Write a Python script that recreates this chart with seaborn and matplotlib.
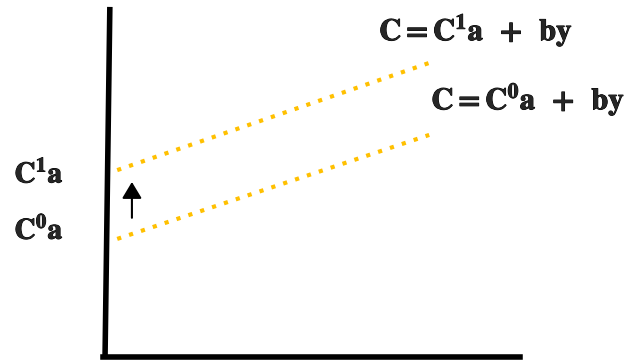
import numpy as np
import pandas as pd
import seaborn as sns
import matplotlib.pyplot as plt
import matplotlib.patheffects as pe

# income values at the two ends of each consumption line
income = [0.35, 10.1]
# consumption (C = C0a + by and C = C1a + by)
cons_new = [5.84, 9.19]
cons_old = [3.69, 6.94]
gold = "#FFC000"

# hand drawn axes
yaxis_x = [0.12, -0.03]
yaxis_y = [10.94, 0.0]
xaxis_x = [-0.09, 12.94]
xaxis_y = [0.0, 0.0]

# shift arrow
arrow_x = 0.81
arrow_from = 4.35
arrow_to = 5.47

labels = [r"$\mathbf{C^{1}a}$", r"$\mathbf{C^{0}a}$"]
label_x = [-2.09, -2.09]
label_y = [5.72, 3.96]
eqs = [r"$\mathbf{C=C^{1}a\;\;+\;\;by}$", r"$\mathbf{C=C^{0}a\;\;+\;\;by}$"]
eq_x = [11.56, 13.19]
eq_y = [10.22, 8.06]

sns.set_style("white")
plt.rcParams["mathtext.fontset"] = "stix"

fig = plt.figure(figsize=(6.32, 3.62), dpi=100)
ax = fig.add_axes([0, 0, 1, 1])

df = pd.DataFrame({
    "income": income * 2,
    "consumption": cons_new + cons_old,
    "curve": ["new"] * 2 + ["old"] * 2,
})
for name, grp in df.groupby("curve"):
    sns.lineplot(data=grp, x="income", y="consumption", color=gold,
                 linewidth=3, linestyle=(0, (1, 2)), ax=ax)

ax.plot(yaxis_x, yaxis_y, color="black", lw=4, solid_capstyle="butt")
ax.plot(xaxis_x, xaxis_y, color="black", lw=4, solid_capstyle="projecting")

ax.annotate("", xy=(arrow_x, arrow_to), xytext=(arrow_x, arrow_from),
            arrowprops=dict(arrowstyle="-|>,head_width=0.6,head_length=1.0",
                            color="black", lw=1.5, shrinkA=0, shrinkB=0))

# the original lettering is heavier than STIX bold
thick = [pe.withStroke(linewidth=0.7, foreground="black")]
for t, x, y in zip(labels, label_x, label_y):
    ax.text(x, y, t, fontsize=21, ha="center", va="center", path_effects=thick)
for t, x, y in zip(eqs, eq_x, eq_y):
    ax.text(x, y, t, fontsize=22, ha="center", va="center", path_effects=thick)

ax.set_xlim(-3.3125, 16.4375)
ax.set_ylim(-0.15625, 11.15625)
ax.axis("off")

fig.savefig("out.png", dpi=100)
